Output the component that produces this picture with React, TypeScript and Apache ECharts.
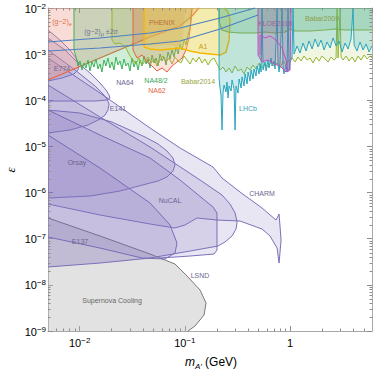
import React, { useEffect, useRef } from 'react';
import * as echarts from 'echarts';

type P = [number, number]; // [log10(m / GeV), log10(epsilon)]

const X_MIN = 0.005;
const X_MAX = 6;
const Y_MIN = 1e-9;
const Y_MAX = 1e-2;

const xMinorTicks = [0.006, 0.007, 0.008, 0.009, 0.02, 0.03, 0.04, 0.05, 0.06, 0.07, 0.08, 0.09, 0.2, 0.3, 0.4, 0.5, 0.6, 0.7, 0.8, 0.9, 2, 3, 4, 5];
const yMinorMantissa = [2, 3, 4, 5, 6, 7, 8, 9];
const yMinorDecades = [-9, -8, -7, -6, -5, -4, -3];

// ---- exclusion contours, [log10 m, log10 eps] ----
const supernova: P[] = [[-2.301, -6.551], [-1.807, -6.941], [-1.331, -7.332], [-1.094, -7.548], [-0.970, -7.830], [-0.856, -8.112], [-0.799, -8.394], [-0.818, -8.654], [-0.904, -8.892], [-0.970, -9.0]];
const e137: P[] = [[-2.301, -4.752], [-1.807, -5.468], [-1.331, -6.226], [-1.141, -6.703], [-1.075, -7.093], [-1.094, -7.310], [-1.189, -7.440], [-1.407, -7.418], [-1.807, -7.202], [-2.301, -6.963]];
const lsnd: P[] = [[-2.301, -4.211], [-1.807, -4.752], [-1.331, -5.251], [-1.046, -5.728], [-0.733, -6.313], [-0.695, -6.443], [-0.695, -7.245], [-0.723, -7.332], [-0.951, -7.375], [-1.236, -7.418]];
const lsndClose: P[] = [[-1.807, -7.527], [-2.301, -7.613]];
const nucal: P[] = [[-2.301, -3.669], [-1.807, -4.362], [-1.331, -5.013], [-0.856, -5.728], [-0.647, -6.053], [-0.571, -6.248], [-0.523, -6.443], [-0.504, -6.638], [-0.514, -6.790], [-0.552, -6.941], [-0.619, -7.071], [-0.685, -7.158], [-0.951, -7.267], [-1.331, -7.418], [-1.807, -7.527], [-2.301, -7.613]];
const charm: P[] = [[-2.301, -3.084], [-1.807, -3.842], [-1.331, -4.601], [-1.046, -5.034], [-0.733, -5.446], [-0.647, -5.684], [-0.476, -5.988], [-0.267, -6.335], [-0.134, -6.595], [-0.105, -6.465], [-0.086, -7.028], [-0.105, -7.527], [-0.124, -7.202], [-0.191, -6.941], [-0.267, -6.790], [-0.476, -6.617], [-0.695, -6.595], [-0.885, -6.551], [-0.999, -6.703], [-1.094, -6.768], [-1.331, -6.681], [-1.807, -6.486], [-2.301, -6.248]];
const orsay: P[] = [[-2.301, -4.211], [-1.997, -4.276], [-1.693, -4.471], [-1.379, -4.796], [-1.255, -4.947], [-1.170, -5.099], [-1.113, -5.251], [-1.094, -5.403], [-1.113, -5.533], [-1.170, -5.663], [-1.255, -5.749], [-1.331, -5.793], [-1.617, -5.966], [-1.902, -6.075], [-2.301, -6.118]];
const e141: P[] = [[-2.301, -2.910], [-2.044, -3.344], [-1.854, -3.690], [-1.778, -3.864], [-1.740, -3.972], [-1.721, -4.081], [-1.731, -4.211], [-1.759, -4.319], [-1.807, -4.406], [-1.921, -4.536], [-2.092, -4.644], [-2.301, -4.709]];
const na64: P[] = [[-2.301, -2.650], [-2.139, -2.910], [-2.025, -3.170], [-1.902, -3.409], [-1.807, -3.625], [-1.750, -3.777], [-1.721, -3.886], [-1.712, -3.951], [-1.740, -3.994], [-1.854, -4.016], [-2.301, -4.016]];
const e774: P[] = [[-2.301, -2.477], [-2.187, -2.694], [-2.092, -2.910], [-2.035, -3.084], [-2.006, -3.214], [-2.016, -3.344], [-2.054, -3.430], [-2.168, -3.517], [-2.301, -3.582]];

const g2e: P[] = [[-2.301, -3.560], [-1.807, -3.084], [-1.331, -2.629], [-1.046, -2.390], [-0.932, -2.173], [-0.866, -2.0]];
const na48: P[] = [[-2.054, -2], [-2.054, -2.910], [-2.035, -3.062], [-2.016, -3.257], [-1.997, -3.149], [-1.978, -3.344], [-1.959, -3.192], [-1.940, -3.300], [-1.921, -3.127], [-1.902, -3.365], [-1.883, -3.170], [-1.864, -3.279], [-1.845, -3.105], [-1.826, -3.322], [-1.807, -3.214], [-1.788, -3.387], [-1.769, -3.127], [-1.750, -3.257], [-1.731, -3.084], [-1.712, -3.300], [-1.693, -3.170], [-1.674, -3.344], [-1.655, -3.062], [-1.636, -3.235], [-1.617, -3.149], [-1.598, -3.322], [-1.579, -3.105], [-1.560, -3.257], [-1.541, -3.192], [-1.522, -3.365], [-1.503, -3.084], [-1.484, -3.279], [-1.465, -3.149], [-1.445, -3.344], [-1.426, -3.127], [-1.407, -3.257], [-1.388, -3.040], [-1.369, -3.214], [-1.350, -3.105], [-1.331, -3.300], [-1.312, -3.019], [-1.293, -3.192], [-1.274, -3.084], [-1.255, -3.257], [-1.236, -2.997], [-1.217, -3.149], [-1.198, -3.062], [-1.179, -3.235], [-1.160, -2.954], [-1.141, -3.105], [-1.122, -2.910], [-1.103, -3.062], [-1.084, -2.845], [-1.065, -2.997], [-1.046, -2.780], [-1.027, -2.910], [-1.008, -2.694], [-0.989, -2.802], [-0.970, -2.585], [-0.951, -2.433], [-0.942, -2.152], [-0.932, -2.0]];
const babar2014: P[] = [[-1.693, -2], [-1.693, -2.694], [-1.665, -2.780], [-1.617, -2.759], [-1.560, -2.867], [-1.522, -3.040], [-1.493, -3.127], [-1.465, -3.214], [-1.436, -3.084], [-1.407, -3.235], [-1.379, -3.149], [-1.350, -3.062], [-1.322, -3.192], [-1.293, -3.105], [-1.265, -3.257], [-1.236, -3.127], [-1.208, -3.040], [-1.179, -3.170], [-1.151, -3.084], [-1.122, -3.214], [-1.094, -3.062], [-1.065, -3.149], [-1.037, -3.192], [-1.008, -3.040], [-0.980, -3.127], [-0.951, -3.214], [-0.923, -3.084], [-0.894, -3.170], [-0.866, -3.062], [-0.837, -3.192], [-0.809, -3.105], [-0.780, -3.235], [-0.752, -3.127], [-0.723, -3.084], [-0.695, -3.214], [-0.666, -3.344], [-0.638, -3.279], [-0.609, -3.387], [-0.580, -3.300], [-0.552, -3.409], [-0.523, -3.257], [-0.495, -3.365], [-0.466, -3.322], [-0.438, -3.430], [-0.409, -3.279], [-0.381, -3.344], [-0.352, -3.235], [-0.324, -3.322], [-0.295, -3.192], [-0.267, -3.300], [-0.238, -3.214], [-0.210, -3.279], [-0.181, -3.170], [-0.153, -3.257], [-0.124, -3.192], [-0.096, -3.300], [-0.067, -3.149], [-0.039, -3.235], [-0.010, -3.127], [0.018, -3.084], [0.047, -3.170], [0.075, -3.062], [0.104, -3.149], [0.132, -3.040], [0.161, -3.127], [0.190, -3.084], [0.218, -3.192], [0.247, -3.062], [0.275, -3.149], [0.304, -3.040], [0.332, -3.105], [0.361, -3.170], [0.389, -3.062], [0.418, -3.127], [0.437, -3.084], [0.446, -2], [0.456, -3.084], [0.475, -2], [0.484, -3.062], [0.503, -3.127], [0.532, -3.040], [0.560, -3.149], [0.589, -3.062], [0.617, -3.170], [0.646, -3.040], [0.674, -3.127], [0.703, -3.019], [0.731, -3.105], [0.760, -3.040], [0.778, -3.084]];
const phenix: P[] = [[-1.484, -2], [-1.484, -2.780], [-1.331, -2.824], [-1.189, -2.802], [-1.065, -2.824], [-1.018, -2.694], [-0.999, -2]];
const na62: P[] = [[-1.493, -2], [-1.493, -2.910], [-1.455, -3.084], [-1.407, -3.019], [-1.360, -3.170], [-1.312, -3.257], [-1.265, -3.365], [-1.217, -3.300], [-1.170, -3.387], [-1.122, -3.257], [-1.075, -3.170], [-1.027, -3.084], [-0.989, -2.910], [-0.961, -2.650], [-0.942, -2.303], [-0.932, -2]];
const a1: P[] = [[-1.388, -2], [-1.388, -2.845], [-1.331, -2.889], [-1.236, -2.910], [-1.141, -2.889], [-1.046, -2.867], [-0.951, -2.932], [-0.856, -2.975], [-0.761, -2.997], [-0.666, -3.019], [-0.609, -2.954], [-0.580, -2.694], [-0.571, -2.260], [-0.590, -2.087], [-0.628, -2]];
const babar2009: P[] = [[-0.675, -2], [-0.675, -2.303], [-0.647, -2.477], [-0.590, -2.520], [-0.476, -2.542], [-0.333, -2.542], [-0.238, -2.520], [-0.143, -2.542], [-0.048, -2.520], [-0.001, -2.455], [0.047, -2.498], [0.190, -2.498], [0.332, -2.477], [0.427, -2.455], [0.522, -2.477], [0.665, -2.477], [0.778, -2.477]];
const lhcb: P[] = [[-0.675, -2], [-0.675, -3.517], [-0.666, -3.734], [-0.657, -3.886], [-0.647, -4.644], [-0.638, -3.842], [-0.628, -3.669], [-0.609, -3.820], [-0.600, -3.604], [-0.590, -3.951], [-0.580, -3.690], [-0.561, -3.799], [-0.552, -3.560], [-0.533, -3.755], [-0.523, -4.644], [-0.514, -3.690], [-0.495, -3.842], [-0.485, -3.539], [-0.466, -3.734], [-0.457, -3.495], [-0.438, -3.690], [-0.428, -3.430], [-0.409, -3.647], [-0.400, -3.387], [-0.381, -3.582], [-0.371, -3.344], [-0.352, -3.539], [-0.343, -3.322], [-0.324, -3.474], [-0.314, -3.257], [-0.295, -3.430], [-0.286, -3.214], [-0.276, -3.387], [-0.267, -2], [-0.257, -3.344], [-0.238, -3.170], [-0.229, -3.365], [-0.210, -3.127], [-0.200, -3.300], [-0.181, -3.084], [-0.172, -3.257], [-0.153, -3.149], [-0.143, -3.322], [-0.124, -2], [-0.115, -3.214], [-0.105, -3.387], [-0.096, -3.192], [-0.077, -2], [-0.067, -3.300], [-0.058, -3.430], [-0.039, -3.235], [-0.029, -3.387], [-0.020, -2], [-0.010, -3.344], [-0.001, -3.170], [0.018, -3.084], [0.028, -2], [0.037, -2.997], [0.066, -2.824], [0.094, -2.975], [0.123, -2.759], [0.151, -2.932], [0.180, -2.715], [0.209, -2.889], [0.237, -2.672], [0.266, -2.845], [0.294, -2.694], [0.323, -2.910], [0.351, -2.737], [0.380, -2.867], [0.408, -2.650], [0.437, -2.824], [0.465, -2.715], [0.494, -2.954], [0.522, -2.759], [0.551, -2.889], [0.579, -2.672], [0.598, -2], [0.608, -2.802], [0.636, -2.932], [0.665, -2.737], [0.693, -2.910], [0.722, -2.780], [0.750, -2.954], [0.778, -2.824]];
const kloe: P[] = [[-0.305, -2], [-0.305, -3.019], [-0.267, -3.170], [-0.210, -3.127], [-0.153, -3.214], [-0.096, -3.257], [-0.039, -3.387], [-0.001, -3.344], [0.009, -2]];
const kloeInner: P[] = [[-0.286, -3.019], [-0.286, -2.585], [-0.238, -2.650], [-0.191, -2.607], [-0.134, -2.694], [-0.077, -2.867], [-0.039, -3.127], [-0.020, -3.387]];
const g2muUpper: P[] = [[-2.301, -2.737], [-1.807, -2.650], [-1.331, -2.542], [-1.046, -2.433], [-0.666, -2.217], [-0.333, -2]];
const g2muLower: P[] = [[-2.301, -2.932], [-1.807, -2.867], [-1.331, -2.780], [-1.046, -2.715], [-0.666, -2.455], [-0.305, -2.152]];

const TOP_RIGHT: P[] = [[0.778, -2]];

const PURPLE_FILL = 'rgba(120,100,180,0.16)';
const PURPLE_LINE = '#7c70bb';

interface Layer { edge: P[]; close?: P[]; fill?: string; stroke?: string; lw?: number; }

const layers: Layer[] = [
  { edge: supernova, close: [[-2.301, -9.0]], fill: 'rgba(185,185,185,0.42)', stroke: '#7a7a7a' },
  { edge: e137, fill: PURPLE_FILL, stroke: PURPLE_LINE },
  { edge: lsnd, close: lsndClose, fill: PURPLE_FILL, stroke: PURPLE_LINE },
  { edge: nucal, fill: PURPLE_FILL, stroke: PURPLE_LINE },
  { edge: charm, fill: PURPLE_FILL, stroke: PURPLE_LINE },
  { edge: orsay, fill: PURPLE_FILL, stroke: PURPLE_LINE },
  { edge: e141, fill: PURPLE_FILL, stroke: PURPLE_LINE },
  { edge: na64, fill: PURPLE_FILL, stroke: PURPLE_LINE },
  { edge: e774, fill: PURPLE_FILL, stroke: PURPLE_LINE },
  { edge: g2e, close: [[-2.301, -2]], fill: 'rgba(240,150,130,0.33)', stroke: '#e8653c', lw: 1.2 },
  { edge: na48, fill: 'rgba(60,180,90,0.24)', stroke: '#3cb45a', lw: 1 },
  { edge: babar2014, close: TOP_RIGHT, fill: 'rgba(150,185,40,0.13)', stroke: '#95b52e', lw: 1 },
  { edge: phenix, fill: 'rgba(185,140,60,0.22)' },
  { edge: na62, fill: 'rgba(240,130,100,0.22)', stroke: '#e5603a', lw: 1 },
  { edge: a1, fill: 'rgba(250,215,80,0.36)', stroke: '#f6b800', lw: 1.4 },
  { edge: babar2009, close: TOP_RIGHT, fill: 'rgba(120,190,100,0.28)', stroke: '#92b03a', lw: 1.2 },
  { edge: lhcb, close: TOP_RIGHT, fill: 'rgba(40,170,190,0.24)', stroke: '#2aa6bc', lw: 1 },
  { edge: kloe, fill: 'rgba(140,80,150,0.3)', stroke: '#c04fc0', lw: 1 },
  { edge: kloeInner, stroke: '#c04fc0', lw: 1 },
  { edge: g2muUpper, stroke: '#4d7fc4', lw: 1.2 },
  { edge: g2muLower, stroke: '#4d7fc4', lw: 1.2 },
];

const FONT = "'Liberation Sans', Arial, sans-serif";
const PURPLE_TXT = '#6c6890';

const labels: [string, number, number, string][] = [
  ['PHENIX', 162, 22, '#b5713a'],
  ['E774', 62, 68, PURPLE_TXT],
  ['NA64', 125, 82, PURPLE_TXT],
  ['NA48/2', 156, 80, '#3aa65a'],
  ['NA62', 157, 90, '#e2673d'],
  ['Babar2014', 198, 81, '#98a43e'],
  ['A1', 203, 46, '#c49d12'],
  ['KLOE2018', 275, 23, '#9c5c9e'],
  ['Babar2009', 322, 18, '#8c9a4c'],
  ['LHCb', 248, 108, '#3aa1b2'],
  ['E141', 118, 108, PURPLE_TXT],
  ['Orsay', 77, 162, PURPLE_TXT],
  ['NuCAL', 170, 200, PURPLE_TXT],
  ['CHARM', 262, 193, PURPLE_TXT],
  ['E137', 80, 241, PURPLE_TXT],
  ['LSND', 200, 275, PURPLE_TXT],
  ['Supernova Cooling', 112, 300, '#666666'],
];

function regionSeries(r: Layer) {
  return {
    type: 'custom',
    silent: true,
    coordinateSystem: 'cartesian2d',
    data: [[0.05, 1e-5]],
    renderItem: (params: any, api: any) => {
      const toPx = (p: P) => api.coord([Math.pow(10, p[0]), Math.pow(10, p[1])]);
      const edge = r.edge.map(toPx);
      const children: any[] = [];
      if (r.fill) {
        children.push({ type: 'polygon', shape: { points: edge.concat((r.close || []).map(toPx)) }, style: { fill: r.fill, stroke: 'none' } });
      }
      if (r.stroke) {
        children.push({ type: 'polyline', shape: { points: edge }, style: { fill: 'none', stroke: r.stroke, lineWidth: r.lw ?? 1, lineJoin: 'round' } });
      }
      return { type: 'group', children };
    },
  };
}

const minorTickSeries = {
  type: 'custom',
  silent: true,
  coordinateSystem: 'cartesian2d',
  data: [[0.05, 1e-5]],
  z: 10,
  renderItem: (params: any, api: any) => {
    const bl = api.coord([X_MIN, Y_MIN]);
    const tr = api.coord([X_MAX, Y_MAX]);
    const L = 2.5;
    const st = { stroke: '#8c8c8c', lineWidth: 1 };
    const children: any[] = [];
    xMinorTicks.forEach((v) => {
      const x = Math.round(api.coord([v, Y_MIN])[0]) + 0.5;
      children.push({ type: 'line', shape: { x1: x, y1: bl[1], x2: x, y2: bl[1] - L }, style: st });
      children.push({ type: 'line', shape: { x1: x, y1: tr[1], x2: x, y2: tr[1] + L }, style: st });
    });
    yMinorDecades.forEach((d) => {
      yMinorMantissa.forEach((m) => {
        const y = Math.round(api.coord([X_MIN, m * Math.pow(10, d)])[1]) + 0.5;
        children.push({ type: 'line', shape: { x1: bl[0], y1: y, x2: bl[0] + L, y2: y }, style: st });
        children.push({ type: 'line', shape: { x1: tr[0], y1: y, x2: tr[0] - L, y2: y }, style: st });
      });
    });
    return { type: 'group', children };
  },
};

const powLabel = (v: number) => {
  const lg = Math.log10(v);
  const k = Math.round(lg);
  if (Math.abs(lg - k) > 1e-6) return '';
  if (k === 0) return '{b|1}';
  return `{b|10}{s|${k < 0 ? '−' : ''}${Math.abs(k)}}`;
};

const labelRich = {
  b: { fontSize: 11, fontFamily: FONT, color: '#000', lineHeight: 12, verticalAlign: 'bottom' },
  s: { fontSize: 8, fontFamily: FONT, color: '#000', lineHeight: 9, padding: [0, 0, 6, 0], verticalAlign: 'top' },
};

const axisBase = {
  type: 'log',
  logBase: 10,
  axisLine: { show: true, onZero: false, lineStyle: { color: '#a8a8a8', width: 1 } },
  axisTick: { show: true, inside: true, length: 5, lineStyle: { color: '#8c8c8c' } },
  splitLine: { show: false },
};

const option: any = {
  animation: false,
  backgroundColor: '#ffffff',
  grid: { left: 48, right: 2, top: 8, bottom: 41, containLabel: false, outerBoundsMode: 'none' },
  xAxis: [
    { ...axisBase, min: X_MIN, max: X_MAX, position: 'bottom', axisLabel: { formatter: powLabel, margin: 5, showMinLabel: false, showMaxLabel: false, rich: labelRich } },
    { ...axisBase, min: X_MIN, max: X_MAX, position: 'top', axisLabel: { show: false } },
  ],
  yAxis: [
    { ...axisBase, min: Y_MIN, max: Y_MAX, position: 'left', axisLabel: { formatter: powLabel, margin: 2, rich: labelRich } },
    { ...axisBase, min: Y_MIN, max: Y_MAX, position: 'right', axisLabel: { show: false } },
  ],
  series: [...layers.map(regionSeries), minorTickSeries],
  graphic: [
    ...labels.map(([t, x, y, c]) => ({
      type: 'text', x, y, z: 100, silent: true,
      style: { text: t, fill: c, font: `7px ${FONT}`, align: 'center', verticalAlign: 'middle' },
    })),
    {
      type: 'text', x: 62, y: 22, z: 100, silent: true,
      style: {
        text: '{a|(g−2)}{b|e}', fill: '#e0704a', align: 'center', verticalAlign: 'middle',
        rich: {
          a: { fontSize: 7, fontFamily: FONT, fill: '#e0704a', lineHeight: 9, verticalAlign: 'top' },
          b: { fontSize: 5.5, fontFamily: FONT, fill: '#e0704a', lineHeight: 6, verticalAlign: 'bottom' },
        },
      },
    },
    {
      type: 'text', x: 101, y: 32, z: 100, silent: true,
      style: {
        text: '{a|(g−2)}{b|μ}{a| ±2σ}', fill: '#6b7592', align: 'center', verticalAlign: 'middle',
        rich: {
          a: { fontSize: 7, fontFamily: FONT, fill: '#6b7592', lineHeight: 9, verticalAlign: 'top' },
          b: { fontSize: 5.5, fontFamily: FONT, fill: '#6b7592', lineHeight: 6, verticalAlign: 'bottom' },
        },
      },
    },
    {
      type: 'text', x: 211, y: 363, z: 100, silent: true,
      style: {
        text: '{m|m}{s|A′}{g| (GeV)}', fill: '#000', align: 'center', verticalAlign: 'middle',
        rich: {
          m: { fontSize: 12, fontStyle: 'italic', fontFamily: FONT, fill: '#000', lineHeight: 14, verticalAlign: 'top' },
          s: { fontSize: 8, fontStyle: 'italic', fontFamily: FONT, fill: '#000', lineHeight: 8, verticalAlign: 'bottom' },
          g: { fontSize: 12, fontFamily: FONT, fill: '#000', lineHeight: 14, verticalAlign: 'top' },
        },
      },
    },
    {
      type: 'text', x: 10, y: 170, z: 100, silent: true, rotation: Math.PI / 2,
      style: { text: 'ε', fill: '#000', font: `italic 13px 'Liberation Serif', serif`, align: 'center', verticalAlign: 'middle' },
    },
  ],
};

export default function App() {
  const ref = useRef<HTMLDivElement>(null);
  useEffect(() => {
    const chart = echarts.init(ref.current!, null, { renderer: 'svg' });
    chart.setOption(option);
    return () => chart.dispose();
  }, []);
  return <div ref={ref} style={{ position: 'fixed', left: 0, top: 0, width: 374, height: 372, background: '#fff' }} />;
}
